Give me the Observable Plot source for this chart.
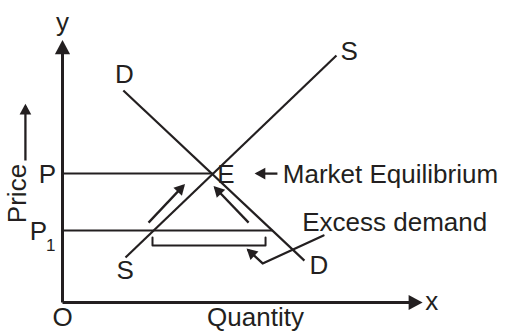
<!DOCTYPE html>
<html>
<head>
<meta charset="utf-8">
<script src="https://cdn.jsdelivr.net/npm/d3@7"></script>
<script src="https://cdn.jsdelivr.net/npm/@observablehq/plot@0.6"></script>
<style>
  html, body { margin: 0; padding: 0; background: #fff; }
  #chart svg { display: block; }
</style>
</head>
<body>
<div id="chart"></div>
<script>
// Curves (data units: origin O at 0,0; axes run to ~100)
const curves = [
  {name: "S", x1: 17.5, y1: 17.2, x2: 76.1, y2: 94.3},
  {name: "D", x1: 16.9, y1: 80.9, x2: 67.2, y2: 16.0}
];
// Price levels
const priceLevels = [
  {name: "P",  y: 49.2, xEnd: 41.7},
  {name: "P1", y: 27.5, xEnd: 58.3}
];
// Axes (with arrowheads)
const axes = [
  {x1: 0, y1: 0, x2: 0, y2: 99},
  {x1: 0, y1: 0, x2: 99.2, y2: 0}
];
// Small arrows
const arrows = [
  {x1: -10.3, y1: 54.2, x2: -10.3, y2: 75.0},   // price arrow
  {x1: 23.9, y1: 30.5, x2: 33.6, y2: 44.6},     // along supply
  {x1: 51.7, y1: 30.5, x2: 42.4, y2: 43.8},     // along demand
  {x1: 59.7, y1: 49.2, x2: 54.0, y2: 49.2}      // market equilibrium pointer
];
// Excess demand pointer (polyline ending with arrowhead)
const pointerX = [72.5, 55.6, 51.6];
const pointerY = [25.6, 14.9, 20.0];
// Excess-demand bracket
const bracketX = [25.0, 25.0, 56.4, 56.4];
const bracketY = [24.8, 21.8, 21.8, 24.8];
// Text labels (centred)
const labels = [
  {text: "y", x: 0, y: 106.9},
  {text: "O", x: 0, y: -5.9},
  {text: "x", x: 102.6, y: 0.3},
  {text: "Quantity", x: 53.6, y: -5.6},
  {text: "P", x: -4.2, y: 48.6},
  {text: "P", x: -6.7, y: 26.9},
  {text: "D", x: 17.2, y: 86.8},
  {text: "D", x: 71.2, y: 14.0},
  {text: "S", x: 79.6, y: 95.6},
  {text: "S", x: 17.4, y: 12.0},
  {text: "E", x: 45.4, y: 48.8}
];
// Text labels (left-aligned)
const notes = [
  {text: "Market Equilibrium", x: 61.2, y: 48.8},
  {text: "Excess demand", x: 66.6, y: 30.6}
];
const subscripts = [{text: "1", x: -3.3, y: 21.6}];
const rotated = [{text: "Price", x: -12.4, y: 41.6}];

const ink = "#231f20";
const font = "Liberation Sans, Arial, Helvetica, sans-serif";

const pointer = pointerX.map((x, i) => ({x, y: pointerY[i]}));
const bracket = bracketX.map((x, i) => ({x, y: bracketY[i]}));

const chart = Plot.plot({
  width: 507,
  height: 331,
  marginLeft: 62,
  marginRight: 85,
  marginTop: 40,
  marginBottom: 29,
  x: {domain: [0, 100], axis: null},
  y: {domain: [0, 100], axis: null},
  style: {fontFamily: font, background: "#fff", color: ink},
  marks: [
    Plot.link(curves, {x1: "x1", y1: "y1", x2: "x2", y2: "y2", stroke: ink, strokeWidth: 2.2}),
    Plot.link(priceLevels, {x1: 0, y1: "y", x2: "xEnd", y2: "y", stroke: ink, strokeWidth: 2}),
    Plot.line(bracket, {x: "x", y: "y", stroke: ink, strokeWidth: 2}),
    Plot.link(axes, {x1: "x1", y1: "y1", x2: "x2", y2: "y2", stroke: ink, strokeWidth: 3, markerEnd: "arrow"}),
    Plot.link(arrows, {x1: "x1", y1: "y1", x2: "x2", y2: "y2", stroke: ink, strokeWidth: 2.3, markerEnd: "arrow"}),
    Plot.line(pointer, {x: "x", y: "y", stroke: ink, strokeWidth: 2.3, markerEnd: "arrow"}),
    Plot.text(labels, {x: "x", y: "y", text: "text", fontSize: 26, fill: ink}),
    Plot.text(notes, {x: "x", y: "y", text: "text", textAnchor: "start", fontSize: 26, fill: ink}),
    Plot.text(subscripts, {x: "x", y: "y", text: "text", fontSize: 17, fill: ink}),
    Plot.text(rotated, {x: "x", y: "y", text: "text", rotate: -90, fontSize: 26, fill: ink})
  ]
});

// filled triangular arrowheads
chart.querySelectorAll("marker").forEach(m => {
  m.setAttribute("overflow", "visible");
  m.setAttribute("fill", ink);
  m.setAttribute("stroke", "none");
  const p = m.querySelector("path");
  if (p) p.setAttribute("d", "M-5.5,-3.8L1.5,0L-5.5,3.8Z");
});

document.getElementById("chart").appendChild(chart);
</script>
</body>
</html>
